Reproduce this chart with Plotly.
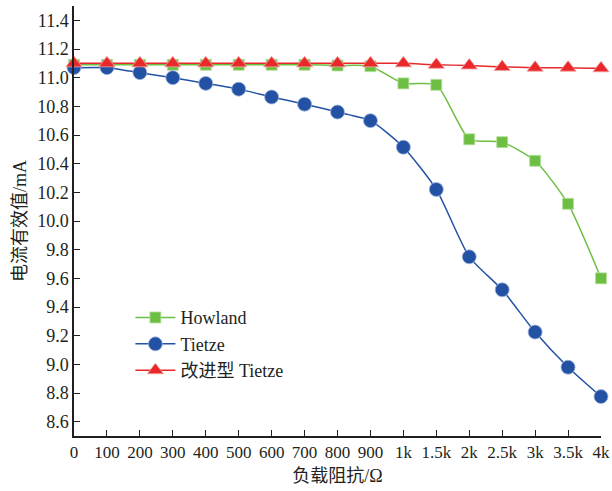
import plotly.graph_objects as go

categories = ["0", "100", "200", "300", "400", "500", "600", "700", "800", "900",
              "1k", "1.5k", "2k", "2.5k", "3k", "3.5k", "4k"]
howland = [11.09, 11.09, 11.09, 11.09, 11.09, 11.09, 11.09, 11.09, 11.085, 11.08,
           10.96, 10.95, 10.57, 10.55, 10.42, 10.12, 9.60]
tietze = [11.07, 11.07, 11.035, 11.0, 10.96, 10.92, 10.865, 10.815, 10.76, 10.70,
          10.515, 10.22, 9.75, 9.52, 9.225, 8.98, 8.775]
tietze_improved = [11.10, 11.10, 11.10, 11.10, 11.10, 11.10, 11.10, 11.10, 11.10, 11.10,
                   11.10, 11.09, 11.085, 11.075, 11.07, 11.07, 11.065]
yticks = [8.6, 8.8, 9.0, 9.2, 9.4, 9.6, 9.8, 10.0, 10.2, 10.4, 10.6, 10.8, 11.0, 11.2, 11.4]

GREEN = "#6dbf43"
BLUE = "#2352a5"
RED = "#e8282b"
FONT = "Liberation Serif, Noto Sans CJK SC, serif"

fig = go.Figure()
fig.add_trace(go.Scatter(
    x=categories, y=howland, name="Howland", mode="lines+markers",
    line=dict(color=GREEN, width=1.5, shape="spline", smoothing=0.6),
    marker=dict(symbol="square", size=11, color=GREEN, line=dict(color="#b8e0a0", width=0.8)),
    cliponaxis=False))
fig.add_trace(go.Scatter(
    x=categories, y=tietze, name="Tietze", mode="lines+markers",
    line=dict(color=BLUE, width=1.5, shape="spline", smoothing=0.6),
    marker=dict(symbol="circle", size=14, color=BLUE, line=dict(color="#9fb4da", width=0.8)),
    cliponaxis=False))
fig.add_trace(go.Scatter(
    x=categories, y=tietze_improved, name="改进型 Tietze", mode="lines+markers",
    line=dict(color=RED, width=1.5, shape="spline", smoothing=0.6),
    marker=dict(symbol="triangle-up", size=14, color=RED, line=dict(color="#f5a0a0", width=0.8)),
    cliponaxis=False))

fig.update_layout(
    width=612, height=491,
    margin=dict(l=74, r=11, t=6, b=55, autoexpand=False),
    paper_bgcolor="white", plot_bgcolor="white",
    font=dict(family=FONT, size=18, color="#231f20"),
    showlegend=True,
    legend=dict(x=0.107, y=0.318, xanchor="left", yanchor="top",
                bgcolor="rgba(0,0,0,0)", font=dict(size=18, family=FONT),
                itemwidth=40, tracegroupgap=0),
    xaxis=dict(
        type="category", range=[0, 16],
        showline=True, linecolor="#231f20", linewidth=1.5,
        ticks="inside", ticklen=6, tickwidth=1.2, tickcolor="#231f20",
        showgrid=False, zeroline=False,
        title=dict(text="负载阻抗/Ω", font=dict(size=18, family=FONT), standoff=8),
        tickfont=dict(size=17, family=FONT)),
    yaxis=dict(
        range=[8.5, 11.5], tickvals=yticks, ticktext=[f"{v:.1f}" for v in yticks],
        showline=True, linecolor="#231f20", linewidth=1.5,
        ticks="inside", ticklen=6, tickwidth=1.2, tickcolor="#231f20",
        showgrid=False, zeroline=False,
        title=dict(text="电流有效值/mA", font=dict(size=18, family=FONT), standoff=6),
        tickfont=dict(size=18, family=FONT)),
)

fig.write_html("out.html", config={"displayModeBar": False},
               post_script="document.body.style.margin='0';document.body.style.overflow='hidden';")
